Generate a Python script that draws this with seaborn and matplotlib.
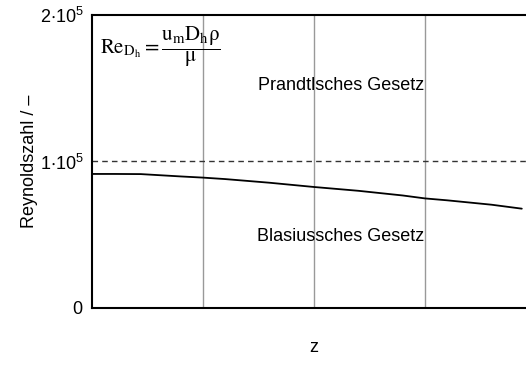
import matplotlib
matplotlib.use("Agg")
import matplotlib.pyplot as plt
import seaborn as sns
import pandas as pd

# Reynolds number along the channel
z = [0.0, 0.05, 0.11, 0.2, 0.25, 0.3, 0.4, 0.5, 0.6, 0.7, 0.75, 0.8, 0.9, 0.968]
re = [91500, 91500, 91400, 89800, 89000, 88000, 85500, 82600, 80000, 76800, 74800, 73500, 70500, 67800]

# transition between the two friction laws
re_crit = 100000
z_grid = [0.25, 0.5, 0.75]
y_ticks = [0, 100000, 200000]
y_ticklabels = [r"$\mathregular{0}$",
                r"$\mathregular{1{\cdot}10^5}$",
                r"$\mathregular{2{\cdot}10^5}$"]

sns.set_theme(style="white", rc={"text.color": "black", "axes.labelcolor": "black",
                                 "xtick.color": "black", "ytick.color": "black"})
plt.rcParams["font.family"] = ["Liberation Sans", "DejaVu Sans"]
plt.rcParams["mathtext.fontset"] = "stix"

fig = plt.figure(figsize=(5.26, 3.65), dpi=100)
ax = fig.add_axes([92 / 526, 1 - 308 / 365, (536 - 92) / 526, (308 - 15) / 365])

df = pd.DataFrame({"z": z, "Re": re})
sns.lineplot(data=df, x="z", y="Re", ax=ax, color="black", linewidth=1.3)

ax.axhline(re_crit, color="#333333", linewidth=1.0, linestyle=(0, (4, 3)))
for zg in z_grid:
    ax.axvline(zg, color="#999999", linewidth=1.0, zorder=0)

ax.set_xlim(0, 1)
ax.set_ylim(0, 200000)
ax.set_xticks([])
ax.set_yticks(y_ticks)
ax.set_yticklabels(y_ticklabels, fontsize=13)
ax.tick_params(axis="y", length=0, pad=6)

for side in ["left", "bottom", "top"]:
    ax.spines[side].set_color("black")
    ax.spines[side].set_linewidth(1.5)
ax.spines["right"].set_visible(False)

ax.set_xlabel("z", fontsize=13, labelpad=22)
ax.set_ylabel("Reynoldszahl / –", fontsize=13, labelpad=1)

ax.text(0.56, 152000, "Prandtlsches Gesetz", fontsize=13, ha="center", va="center")
ax.text(0.56, 49000, "Blasiussches Gesetz", fontsize=13, ha="center", va="center")
ax.text(0.018, 178000,
        r"$\mathrm{Re}_{\mathrm{D_h}} = \dfrac{\mathrm{u_m D_h \rho}}{\mathrm{\mu}}$",
        fontsize=15, ha="left", va="center")

fig.savefig("out.png", dpi=100)
